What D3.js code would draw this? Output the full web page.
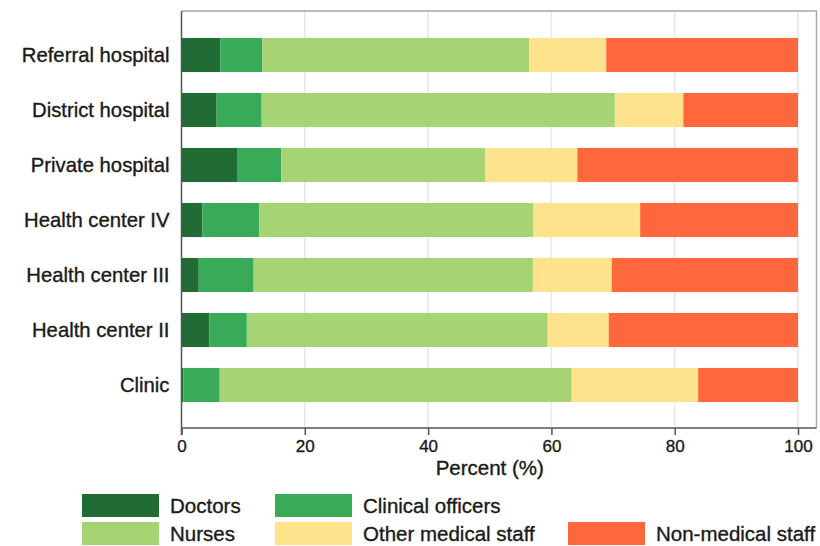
<!DOCTYPE html>
<html>
<head>
<meta charset="utf-8">
<script src="https://cdn.jsdelivr.net/npm/d3@7"></script>
<style>
  html, body { margin: 0; padding: 0; background: #fff; }
  svg { display: block; font-family: "Liberation Sans", Arial, sans-serif; }
  svg text { stroke: #1a1a1a; stroke-width: 0.35px; }
</style>
</head>
<body>
<svg id="chart" width="820" height="546"></svg>
<script>
// Staff composition by facility type (percent of all staff)
const facilities = ["Referral hospital", "District hospital", "Private hospital",
  "Health center IV", "Health center III", "Health center II", "Clinic"];
const groups = ["Doctors", "Clinical officers", "Nurses", "Other medical staff", "Non-medical staff"];
const doctors    = [6.3, 5.7, 9.0, 3.4, 2.8, 4.5, 0.3];
const clinical   = [6.8, 7.3, 7.2, 9.2, 8.9, 6.1, 5.9];
const nurses     = [43.3, 57.3, 33.1, 44.5, 45.3, 48.8, 57.1];
const otherMed   = [12.5, 11.1, 14.9, 17.3, 12.8, 9.9, 20.5];
const nonMedical = [31.1, 18.6, 35.8, 25.6, 30.2, 30.7, 16.2];
const xTicks = [0, 20, 40, 60, 80, 100];
const colors = ["#216b35", "#38aa58", "#a6d474", "#fee38c", "#ff683d"];

const seriesValues = [doctors, clinical, nurses, otherMed, nonMedical];
const rows = facilities.map((f, i) => {
  const r = { facility: f };
  groups.forEach((g, j) => { r[g] = seriesValues[j][i]; });
  return r;
});
const stacked = d3.stack().keys(groups)(rows);

const svg = d3.select("#chart");
const plotLeft = 181.5, plotRight = 798, frameRight = 816.5, plotTop = 11, plotBottom = 428;
const ink = "#1a1a1a";

const x = d3.scaleLinear().domain([0, 100]).range([plotLeft, plotRight]);
const y = d3.scaleBand().domain(facilities).range([27.5, 412.5])
  .paddingInner(0.38).paddingOuter(0.19);
const color = d3.scaleOrdinal().domain(groups).range(colors);

// vertical grid lines
svg.append("g").selectAll("line").data(xTicks.slice(1)).join("line")
  .attr("x1", d => x(d)).attr("x2", d => x(d))
  .attr("y1", plotTop).attr("y2", plotBottom)
  .attr("stroke", "#e6e6e6").attr("stroke-width", 1.5);

// frame (top and right)
svg.append("path")
  .attr("d", `M${plotLeft},${plotTop}H${frameRight}V${plotBottom}`)
  .attr("fill", "none").attr("stroke", "#a8a8a8").attr("stroke-width", 1.5);

// stacked bars
svg.append("g").selectAll("g").data(stacked).join("g")
  .attr("fill", d => color(d.key))
  .selectAll("rect").data(d => d).join("rect")
  .attr("x", d => x(d[0]))
  .attr("width", d => x(d[1]) - x(d[0]))
  .attr("y", d => y(d.data.facility))
  .attr("height", y.bandwidth());

// x axis
const xAxis = svg.append("g").attr("transform", `translate(0,${plotBottom})`)
  .call(d3.axisBottom(x).tickValues(xTicks).tickSize(7).tickPadding(5).tickSizeOuter(0));
xAxis.select(".domain").attr("d", `M${plotLeft},0H${frameRight}`)
  .attr("stroke", "#555").attr("stroke-width", 1.5);
xAxis.selectAll(".tick line").attr("stroke", "#555").attr("stroke-width", 1.5);
xAxis.selectAll(".tick text").attr("font-size", 17).attr("fill", ink)
  .attr("font-family", "Liberation Sans, Arial, sans-serif");

// y axis
const yAxis = svg.append("g").attr("transform", `translate(${plotLeft},0)`)
  .call(d3.axisLeft(y).tickSize(0).tickPadding(12));
yAxis.select(".domain").attr("d", `M0,${plotTop}V${plotBottom + 7}`)
  .attr("stroke", "#555").attr("stroke-width", 1.5);
yAxis.selectAll(".tick text").attr("font-size", 20.3).attr("fill", ink)
  .attr("font-family", "Liberation Sans, Arial, sans-serif");

// axis title
svg.append("text").attr("x", (plotLeft + plotRight) / 2).attr("y", 475)
  .attr("text-anchor", "middle").attr("font-size", 20.5).attr("fill", ink)
  .text("Percent (%)");

// legend
const legendPos = [
  { col: 82, row: 494 }, { col: 275, row: 494 },
  { col: 82, row: 522 }, { col: 275, row: 522 }, { col: 568, row: 522 }
];
const legend = svg.append("g").selectAll("g").data(groups).join("g")
  .attr("transform", (d, i) => `translate(${legendPos[i].col},${legendPos[i].row})`);
legend.append("rect").attr("width", 77).attr("height", 23)
  .attr("fill", d => color(d));
legend.append("text").attr("x", 88).attr("y", 12).attr("dy", "0.35em")
  .attr("font-size", 20.5).attr("fill", ink).text(d => d);
</script>
</body>
</html>
